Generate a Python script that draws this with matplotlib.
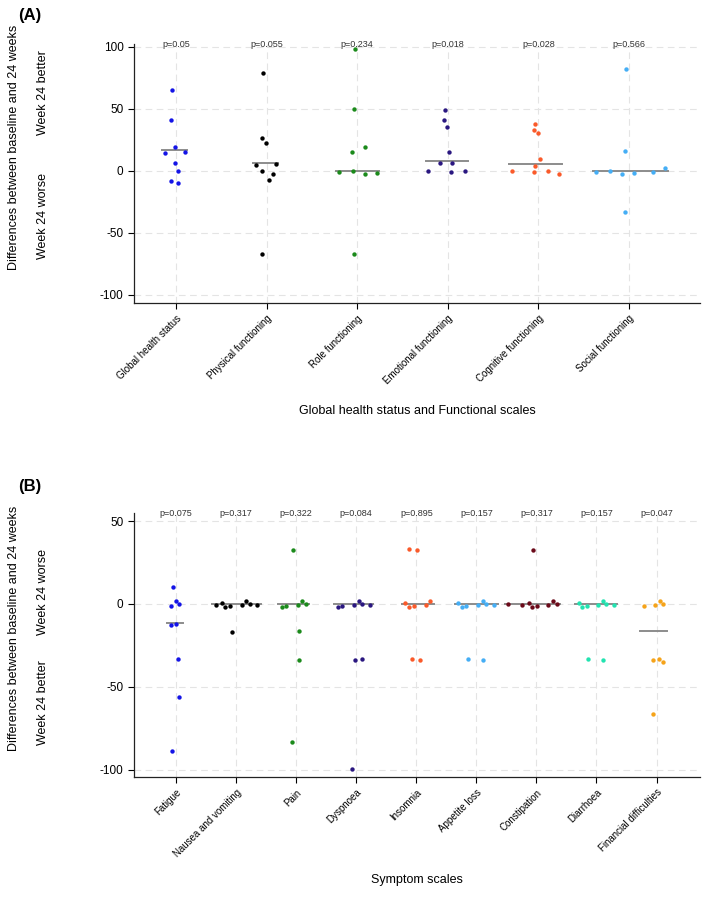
import numpy as np
import matplotlib
matplotlib.use("Agg")
import matplotlib.pyplot as plt

plt.rcParams['font.family'] = ['Liberation Sans', 'DejaVu Sans']
plt.rcParams['axes.unicode_minus'] = False

# Panel A - global health status and functional scales
cats_a = ["Global health status", "Physical functioning", "Role functioning",
          "Emotional functioning", "Cognitive functioning", "Social functioning"]
pvals_a = ["p=0.05", "p=0.055", "p=0.234", "p=0.018", "p=0.028", "p=0.566"]
medians_a = [16.7, 6.2, 0, 8.4, 5.4, 0]
values_a = [
    [65.2, 41.2, 19.4, 14.8, 15.4, 6.2, 0.3, -8.4, -9.4],
    [78.7, 26.4, 22.6, 5.1, 5.7, 0.3, -2.2, -7.5, -66.6],
    [98.7, 49.6, 19.4, 15.6, -1.0, 0.3, -2.2, -1.9, -66.6],
    [48.8, 41.5, 35.8, 15.6, 6.2, 6.7, 0.0, -0.8, 0.3],
    [37.5, 33.2, 30.5, 10.0, 4.0, 0.0, -0.8, 0.3, -2.2],
    [81.9, 16.4, -0.8, 0.3, -2.2, -1.9, -1.0, 2.7, -33.4],
]
jitter_a = [
    [-0.040, -0.052, -0.007, -0.121, 0.096, -0.015, 0.018, -0.055, 0.026],
    [-0.040, -0.048, -0.007, -0.121, 0.099, -0.055, 0.066, 0.029, -0.052],
    [-0.026, -0.037, 0.081, -0.055, -0.202, -0.044, 0.081, 0.213, -0.040],
    [-0.037, -0.048, -0.007, 0.015, -0.092, 0.041, -0.214, 0.029, 0.188],
    [-0.041, -0.048, -0.007, 0.018, -0.041, -0.295, -0.055, 0.103, 0.228],
    [-0.033, -0.041, -0.364, -0.210, -0.081, 0.052, 0.265, 0.401, -0.041],
]
colors_a = ["#1414e6", "#000000", "#1b8a1b", "#2a1780", "#fa5a2a", "#45aef5"]

# Panel B - symptom scales
cats_b = ["Fatigue", "Nausea and vomiting", "Pain", "Dyspnoea", "Insomnia",
          "Appetite loss", "Constipation", "Diarrhoea", "Financial difficulties"]
pvals_b = ["p=0.075", "p=0.317", "p=0.322", "p=0.084", "p=0.895",
           "p=0.157", "p=0.317", "p=0.157", "p=0.047"]
medians_b = [-11.3, 0, 0, 0, 0, 0, 0, 0, -16.3]
values_b = [
    [10.1, 2.0, -1.0, -0.2, -12.7, -12.3, -33.0, -56.0, -88.5],
    [-0.6, 0.4, -1.6, -1.4, -16.7, -0.8, 2.0, -0.2, -0.8],
    [-1.6, -1.4, 32.4, -0.8, 2.0, -0.2, -16.3, -33.8, -83.1],
    [-1.6, -1.4, -0.8, 2.0, -0.2, -0.8, -34.0, -33.0, -99.6],
    [33.2, 32.4, 0.4, -1.6, -1.4, -0.8, 2.0, -33.2, -33.8],
    [0.4, -1.6, -1.4, -0.8, 2.0, -0.2, -0.8, -33.2, -33.8],
    [32.4, 0.0, -0.6, 0.4, -1.6, -1.4, -0.8, 2.0, -0.2],
    [0.4, -1.6, -1.4, -0.8, 2.0, -0.2, -0.8, -33.2, -33.8],
    [-1.4, -0.8, 2.0, -0.2, -33.8, -33.0, -35.0, -66.4],
]
jitter_b = [
    [-0.055, -0.006, -0.089, 0.050, -0.077, 0.006, 0.039, 0.044, -0.072],
    [-0.343, -0.238, -0.177, -0.105, -0.061, 0.094, 0.172, 0.227, 0.349],
    [-0.244, -0.172, -0.061, 0.028, 0.105, 0.161, 0.039, 0.044, -0.077],
    [-0.304, -0.232, -0.039, 0.050, 0.100, 0.227, -0.017, 0.089, -0.077],
    [-0.116, 0.011, -0.183, -0.116, -0.044, 0.155, 0.233, -0.066, 0.055],
    [-0.299, -0.238, -0.166, 0.028, 0.111, 0.166, 0.294, -0.133, 0.105],
    [-0.055, -0.471, -0.233, -0.127, -0.066, 0.006, 0.199, 0.277, 0.338],
    [-0.299, -0.238, -0.166, 0.028, 0.105, 0.166, 0.288, -0.133, 0.105],
    [-0.216, -0.022, 0.055, 0.111, -0.061, 0.044, 0.111, -0.066],
]
colors_b = ["#1414e6", "#000000", "#1b8a1b", "#2a1780", "#fa5a2a",
            "#45aef5", "#6b0a1a", "#22e3b0", "#f5a31a"]


def draw_panel(ax, cats, values, jitter, medians, pvals, colors, pad):
    grid_kw = dict(color="#e4e4e4", lw=0.8, ls=(0, (6, 4)), zorder=0)
    for i in range(len(cats)):
        ax.axvline(i, **grid_kw)
    for t in ax.get_yticks():
        ax.axhline(t, **grid_kw)

    for i, (vals, jit) in enumerate(zip(values, jitter)):
        xs = i + np.array(jit)
        ax.scatter(xs, vals, s=10, color=colors[i], zorder=3, linewidths=0)
        ax.plot([xs.min() - pad, xs.max() + pad], [medians[i]] * 2,
                color="#8c8c8c", lw=1.4, zorder=2)
        ax.text(i, 1.0, pvals[i], transform=ax.get_xaxis_transform(),
                ha="center", va="center", fontsize=6.5, color="#333333",
                clip_on=False)

    ax.set_xticks(range(len(cats)))
    ax.set_xticklabels(cats, rotation=45, ha="right", rotation_mode="anchor",
                       fontsize=7)
    ax.tick_params(axis="y", labelsize=8.5, length=4, width=0.8)
    ax.tick_params(axis="x", length=4, width=0.8)
    for side in ["top", "right"]:
        ax.spines[side].set_visible(False)
    for side in ["left", "bottom"]:
        ax.spines[side].set_linewidth(0.9)
        ax.spines[side].set_color("#222222")


fig = plt.figure(figsize=(7.09, 9.0), dpi=100)

ax_a = fig.add_axes([0.189, 0.6633, 0.798, 0.2878])
ax_a.set_yticks([100, 50, 0, -50, -100])
ax_a.set_ylim(-106.5, 102.4)
ax_a.set_xlim(-0.464, 5.78)
draw_panel(ax_a, cats_a, values_a, jitter_a, medians_a, pvals_a, colors_a, 0.03)

ax_b = fig.add_axes([0.189, 0.1367, 0.798, 0.2933])
ax_b.set_yticks([50, 0, -50, -100])
ax_b.set_ylim(-104.4, 54.9)
ax_b.set_xlim(-0.70, 8.72)
draw_panel(ax_b, cats_b, values_b, jitter_b, medians_b, pvals_b, colors_b, 0.06)

# panel letters and axis titles
fig.text(0.042, 0.983, "(A)", fontsize=12, fontweight="bold", ha="center", va="center")
fig.text(0.042, 0.460, "(B)", fontsize=12, fontweight="bold", ha="center", va="center")

fig.text(0.020, 0.836, "Differences between baseline and 24 weeks", rotation=90,
         fontsize=9, ha="center", va="center")
fig.text(0.061, 0.897, "Week 24 better", rotation=90, fontsize=9, ha="center", va="center")
fig.text(0.061, 0.760, "Week 24 worse", rotation=90, fontsize=9, ha="center", va="center")

fig.text(0.020, 0.302, "Differences between baseline and 24 weeks", rotation=90,
         fontsize=9, ha="center", va="center")
fig.text(0.061, 0.342, "Week 24 worse", rotation=90, fontsize=9, ha="center", va="center")
fig.text(0.061, 0.219, "Week 24 better", rotation=90, fontsize=9, ha="center", va="center")

fig.text(0.588, 0.543, "Global health status and Functional scales", fontsize=9,
         ha="center", va="center")
fig.text(0.588, 0.022, "Symptom scales", fontsize=9, ha="center", va="center")

fig.savefig("out.png", dpi=100)
